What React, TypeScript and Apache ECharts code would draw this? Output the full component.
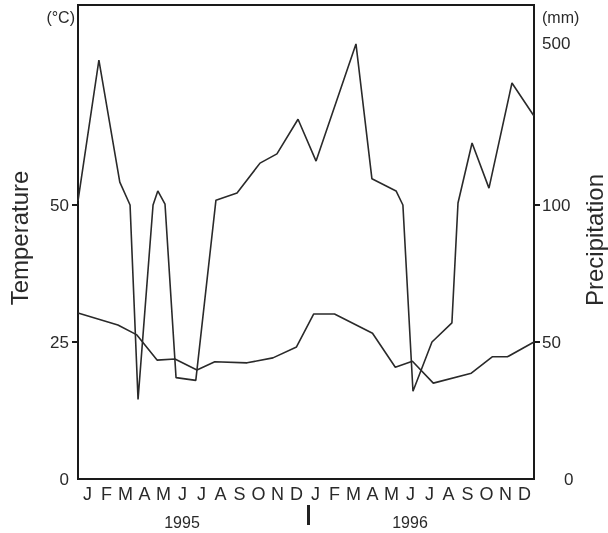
import React, { useEffect, useRef } from 'react';
import * as echarts from 'echarts';

const months = ['J', 'F', 'M', 'A', 'M', 'J', 'J', 'A', 'S', 'O', 'N', 'D', 'J', 'F', 'M', 'A', 'M', 'J', 'J', 'A', 'S', 'O', 'N', 'D'];
const yearLabels = ['1995', '1996'];
const tempTickLabels = [0, 25, 50];
const precipTickLabels = [0, 50, 100, 500];

// position in months from start of Jan 1995 (0..24)
const tempMonths = [0, 2.1, 3.1, 4.16, 5.1, 6.26, 7.2, 8.9, 10.26, 11.5, 12.4, 13.5, 15.5, 16.7, 17.6, 18.7, 20.7, 21.8, 22.6, 24];
const tempValues = [30.3, 28.1, 26.3, 21.7, 21.9, 19.9, 21.4, 21.2, 22.1, 24.1, 30.1, 30.1, 26.6, 20.4, 21.5, 17.5, 19.3, 22.3, 22.3, 25.0];

const precipMonths = [0, 1.1, 2.2, 2.74, 3.16, 3.95, 4.2, 4.58, 5.16, 6.2, 7.26, 8.37, 9.58, 10.47, 11.58, 12.53, 14.63, 15.47, 16.74, 17.1, 17.63, 18.63, 19.68, 20.0, 20.74, 21.63, 22.84, 24];
const precipValues = [110, 460, 157, 100, 29, 100, 135, 102, 37, 36, 112, 130, 204, 227, 313, 209, 500, 165, 135, 100, 32, 50, 57, 105, 254, 142, 403, 321];

// broken precipitation scale: linear to 100 mm, compressed above
const BREAK = 100;
const UPPER_RATIO = 0.147;
const toDisplay = (p: number) => (p <= BREAK ? p : BREAK + (p - BREAK) * UPPER_RATIO);
const fromDisplay = (d: number) => (d <= BREAK ? d : BREAK + (d - BREAK) / UPPER_RATIO);

const FONT = '"Liberation Sans", Arial, sans-serif';
const TEXT = '#2a2a2a';
const AXIS = '#1a1a1a';

export default function App() {
  const ref = useRef<HTMLDivElement>(null);
  useEffect(() => {
    if (!ref.current) return;
    const chart = echarts.init(ref.current, undefined, { renderer: 'svg' });
    chart.setOption({
      animation: false,
      textStyle: { fontFamily: FONT },
      grid: { left: 78, right: 74, top: 5, bottom: 54, show: true, borderColor: AXIS, borderWidth: 2 },
      xAxis: [
        {
          type: 'value', min: 0, max: 24, position: 'bottom',
          axisLine: { show: true, lineStyle: { color: AXIS, width: 2 } },
          axisTick: { show: false }, axisLabel: { show: false }, splitLine: { show: false },
        },
        {
          type: 'category', data: months, position: 'bottom', boundaryGap: true,
          axisLine: { show: false }, axisTick: { show: false }, splitLine: { show: false },
          axisLabel: { color: TEXT, fontSize: 18, fontFamily: FONT, margin: 6, interval: 0 },
        },
      ],
      yAxis: [
        {
          type: 'value', min: 0, max: 86.5, position: 'left',
          axisLine: { show: true, lineStyle: { color: AXIS, width: 2 } },
          axisTick: { show: true, length: 6, lineStyle: { color: AXIS, width: 2 }, customValues: [25, 50] },
          axisLabel: { color: TEXT, fontSize: 17, fontFamily: FONT, margin: 9, customValues: tempTickLabels },
          splitLine: { show: false },
        },
        {
          type: 'value', min: 0, max: 173, position: 'right',
          axisLine: { show: true, lineStyle: { color: AXIS, width: 2 } },
          axisTick: { show: true, length: 6, lineStyle: { color: AXIS, width: 2 }, customValues: [50, 100] },
          axisLabel: {
            color: TEXT, fontSize: 17, fontFamily: FONT, margin: 8,
            customValues: precipTickLabels.map(toDisplay),
            formatter: (v: number) => {
              const mm = Math.round(fromDisplay(v));
              return mm === 0 ? '{z|0}' : String(mm);
            },
            rich: { z: { color: TEXT, fontSize: 17, fontFamily: FONT, padding: [0, 0, 0, 22] } },
          },
          splitLine: { show: false },
        },
      ],
      series: [
        {
          type: 'line', xAxisIndex: 0, yAxisIndex: 0, symbol: 'none',
          lineStyle: { color: '#2a2a2a', width: 1.6 },
          data: tempMonths.map((m, i) => [m, tempValues[i]]),
        },
        {
          type: 'line', xAxisIndex: 0, yAxisIndex: 1, symbol: 'none',
          lineStyle: { color: '#2a2a2a', width: 1.6 },
          data: precipMonths.map((m, i) => [m, toDisplay(precipValues[i])]),
        },
      ],
      graphic: [
        { type: 'text', x: 75, y: 17, style: { text: '(°C)', fill: TEXT, font: `16px ${FONT}`, align: 'right', verticalAlign: 'middle' } },
        { type: 'text', x: 542, y: 17, style: { text: '(mm)', fill: TEXT, font: `16px ${FONT}`, align: 'left', verticalAlign: 'middle' } },
        { type: 'text', x: 19, y: 238, rotation: Math.PI / 2, style: { text: 'Temperature', fill: TEXT, font: `24px ${FONT}`, align: 'center', verticalAlign: 'middle' } },
        { type: 'text', x: 594, y: 240, rotation: Math.PI / 2, style: { text: 'Precipitation', fill: TEXT, font: `24px ${FONT}`, align: 'center', verticalAlign: 'middle' } },
        { type: 'text', x: 182, y: 522, style: { text: yearLabels[0], fill: TEXT, font: `16px ${FONT}`, align: 'center', verticalAlign: 'middle' } },
        { type: 'text', x: 410, y: 522, style: { text: yearLabels[1], fill: TEXT, font: `16px ${FONT}`, align: 'center', verticalAlign: 'middle' } },
        { type: 'rect', shape: { x: 307, y: 505, width: 3, height: 20 }, style: { fill: '#222' } },
      ],
    });
    return () => chart.dispose();
  }, []);
  return <div ref={ref} style={{ position: 'fixed', left: 0, top: 0, width: 608, height: 533 }} />;
}
